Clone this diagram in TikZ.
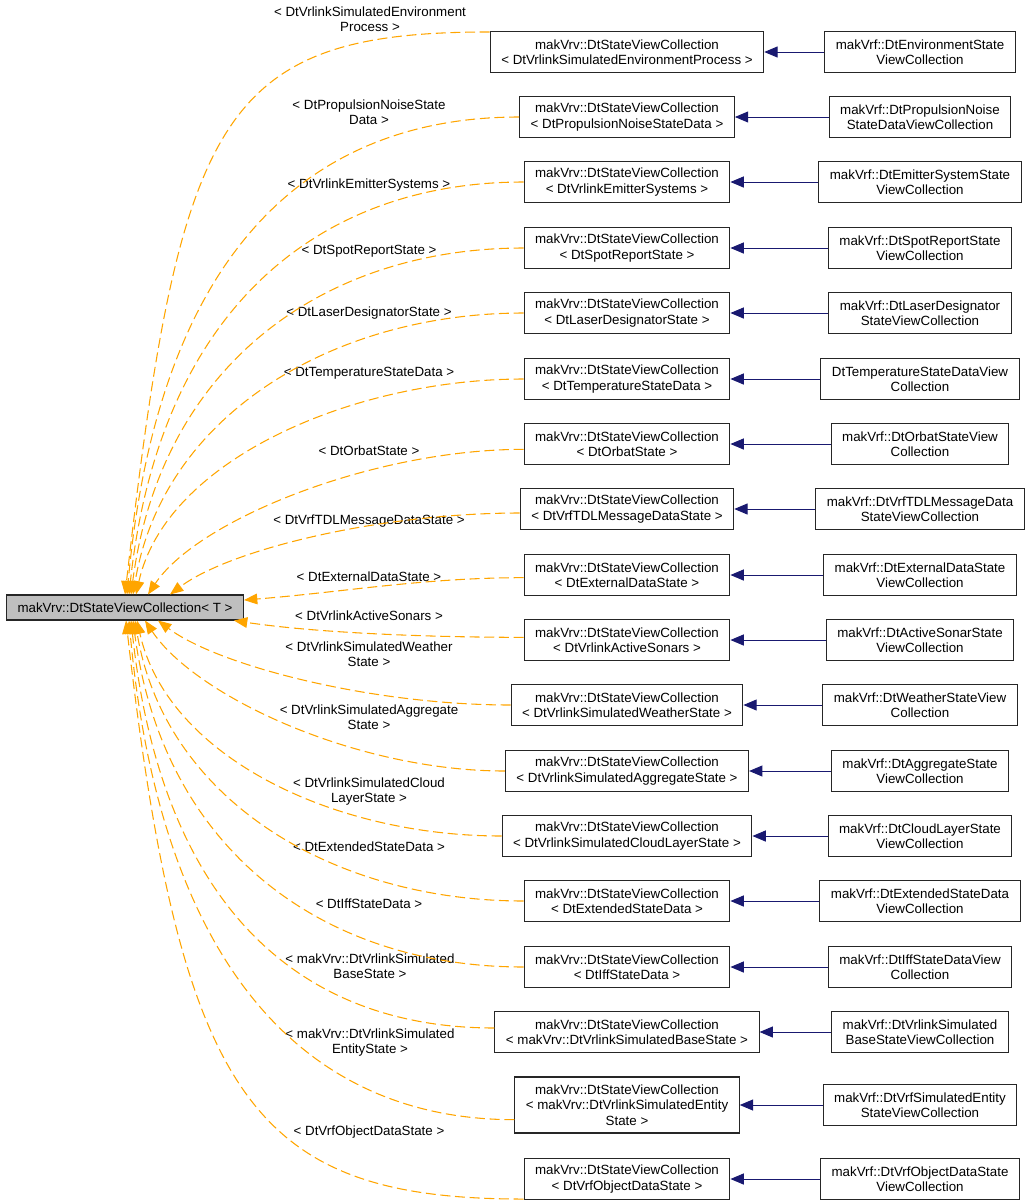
\documentclass[tikz,border=0pt]{standalone}
\usepackage{fontspec}
\setmainfont{Liberation Sans}
\usetikzlibrary{arrows.meta}
\definecolor{inhblue}{HTML}{191970}
\definecolor{tmplorange}{HTML}{FFA500}

\begin{document}
\begin{tikzpicture}[x=0.75pt, y=-0.75pt,
cls/.style={draw=black!85, line width=0.8pt, fill=white, align=center, inner xsep=8.25pt, minimum height=30.75pt, font=\fontsize{10}{11.5}\selectfont},
base/.style={cls, fill=black!25, minimum height=18.75pt},
inh/.style={draw=inhblue, line width=0.75pt, -{Triangle[length=10pt, width=8.25pt]}},
tmpl/.style={draw=tmplorange, line width=0.8pt, dash pattern=on 7.5pt off 3.5pt, -{Triangle[length=10pt, width=8pt]}},
lbl/.style={align=center, font=\fontsize{10}{11.25}\selectfont}]
\def\mx{627}
\def\rx{920}
\useasboundingbox (0,0) rectangle (1029,1204);
% base template
\node[base] (main) at (125,607.5) {makVrv::DtStateViewCollection< T >};
% instances
\node[cls] (m1) at (\mx,52) {makVrv::DtStateViewCollection\\< DtVrlinkSimulatedEnvironmentProcess >};
\node[cls] (m2) at (\mx,117) {makVrv::DtStateViewCollection\\< DtPropulsionNoiseStateData >};
\node[cls] (m3) at (\mx,182) {makVrv::DtStateViewCollection\\< DtVrlinkEmitterSystems >};
\node[cls] (m4) at (\mx,248) {makVrv::DtStateViewCollection\\< DtSpotReportState >};
\node[cls] (m5) at (\mx,313) {makVrv::DtStateViewCollection\\< DtLaserDesignatorState >};
\node[cls] (m6) at (\mx,379) {makVrv::DtStateViewCollection\\< DtTemperatureStateData >};
\node[cls] (m7) at (\mx,444) {makVrv::DtStateViewCollection\\< DtOrbatState >};
\node[cls] (m8) at (\mx,509) {makVrv::DtStateViewCollection\\< DtVrfTDLMessageDataState >};
\node[cls] (m9) at (\mx,575) {makVrv::DtStateViewCollection\\< DtExternalDataState >};
\node[cls] (m10) at (\mx,640) {makVrv::DtStateViewCollection\\< DtVrlinkActiveSonars >};
\node[cls] (m11) at (\mx,705) {makVrv::DtStateViewCollection\\< DtVrlinkSimulatedWeatherState >};
\node[cls] (m12) at (\mx,771) {makVrv::DtStateViewCollection\\< DtVrlinkSimulatedAggregateState >};
\node[cls] (m13) at (\mx,836) {makVrv::DtStateViewCollection\\< DtVrlinkSimulatedCloudLayerState >};
\node[cls] (m14) at (\mx,901) {makVrv::DtStateViewCollection\\< DtExtendedStateData >};
\node[cls] (m15) at (\mx,967) {makVrv::DtStateViewCollection\\< DtIffStateData >};
\node[cls] (m16) at (\mx,1032) {makVrv::DtStateViewCollection\\< makVrv::DtVrlinkSimulatedBaseState >};
\node[cls, minimum height=42pt] (m17) at (\mx,1105) {makVrv::DtStateViewCollection\\< makVrv::DtVrlinkSimulatedEntity\\State >};
\node[cls] (m18) at (\mx,1179) {makVrv::DtStateViewCollection\\< DtVrfObjectDataState >};
% derived view collections
\node[cls] (r1) at (\rx,52) {makVrf::DtEnvironmentState\\ViewCollection};
\node[cls] (r2) at (\rx,117) {makVrf::DtPropulsionNoise\\StateDataViewCollection};
\node[cls] (r3) at (\rx,182) {makVrf::DtEmitterSystemState\\ViewCollection};
\node[cls] (r4) at (\rx,248) {makVrf::DtSpotReportState\\ViewCollection};
\node[cls] (r5) at (\rx,313) {makVrf::DtLaserDesignator\\StateViewCollection};
\node[cls] (r6) at (\rx,379) {DtTemperatureStateDataView\\Collection};
\node[cls] (r7) at (\rx,444) {makVrf::DtOrbatStateView\\Collection};
\node[cls] (r8) at (\rx,509) {makVrf::DtVrfTDLMessageData\\StateViewCollection};
\node[cls] (r9) at (\rx,575) {makVrf::DtExternalDataState\\ViewCollection};
\node[cls] (r10) at (\rx,640) {makVrf::DtActiveSonarState\\ViewCollection};
\node[cls] (r11) at (\rx,705) {makVrf::DtWeatherStateView\\Collection};
\node[cls] (r12) at (\rx,771) {makVrf::DtAggregateState\\ViewCollection};
\node[cls] (r13) at (\rx,836) {makVrf::DtCloudLayerState\\ViewCollection};
\node[cls] (r14) at (\rx,901) {makVrf::DtExtendedStateData\\ViewCollection};
\node[cls] (r15) at (\rx,967) {makVrf::DtIffStateDataView\\Collection};
\node[cls] (r16) at (\rx,1032) {makVrf::DtVrlinkSimulated\\BaseStateViewCollection};
\node[cls] (r17) at (\rx,1105) {makVrf::DtVrfSimulatedEntity\\StateViewCollection};
\node[cls] (r18) at (\rx,1179) {makVrf::DtVrfObjectDataState\\ViewCollection};
% template arguments
\node[lbl] (l1) at (370,19) {< DtVrlinkSimulatedEnvironment\\Process >};
\node[lbl] (l2) at (369,112) {< DtPropulsionNoiseState\\Data >};
\node[lbl] (l3) at (369,185) {< DtVrlinkEmitterSystems >};
\node[lbl] (l4) at (369,251) {< DtSpotReportState >};
\node[lbl] (l5) at (369,313) {< DtLaserDesignatorState >};
\node[lbl] (l6) at (369,373) {< DtTemperatureStateData >};
\node[lbl] (l7) at (369,451) {< DtOrbatState >};
\node[lbl] (l8) at (369,521) {< DtVrfTDLMessageDataState >};
\node[lbl] (l9) at (369,577) {< DtExternalDataState >};
\node[lbl] (l10) at (369,616) {< DtVrlinkActiveSonars >};
\node[lbl] (l11) at (369,654) {< DtVrlinkSimulatedWeather\\State >};
\node[lbl] (l12) at (369,717) {< DtVrlinkSimulatedAggregate\\State >};
\node[lbl] (l13) at (369,792) {< DtVrlinkSimulatedCloud\\LayerState >};
\node[lbl] (l14) at (369,847) {< DtExtendedStateData >};
\node[lbl] (l15) at (369,904) {< DtIffStateData >};
\node[lbl] (l16) at (370,966) {< makVrv::DtVrlinkSimulated\\BaseState >};
\node[lbl] (l17) at (370,1043) {< makVrv::DtVrlinkSimulated\\EntityState >};
\node[lbl] (l18) at (369,1132) {< DtVrfObjectDataState >};
% inheritance
\foreach \i in {1,...,18}
  \draw[inh] (r\i) -- (m\i);
% instantiation
\draw[tmpl] ([yshift=-0.75pt]m1.north west) .. controls +(-270,0) and +(55,-480) .. (main.north);
\draw[tmpl] (m2.west) .. controls +(-220,0) and +(30,-330) .. ([xshift=1.5pt]main.north);
\draw[tmpl] (m3.west) .. controls +(-210,0) and +(30,-280) .. ([xshift=3pt]main.north);
\draw[tmpl] (m4.west) .. controls +(-200,0) and +(30,-230) .. ([xshift=4.5pt]main.north);
\draw[tmpl] (m5.west) .. controls +(-190,0) and +(30,-180) .. ([xshift=6pt]main.north);
\draw[tmpl] (m6.west) .. controls +(-170,0) and +(30,-135) .. ([xshift=8.25pt]main.north);
\draw[tmpl] ([yshift=-4pt]m7.west) .. controls +(-150,0) and +(50,-75) .. ([xshift=17.25pt]main.north);
\draw[tmpl] ([yshift=-3pt]m8.west) .. controls +(-140,0) and +(60,-45) .. ([xshift=33.75pt]main.north);
\draw[tmpl] ([yshift=-2pt]m9.west) .. controls +(-100,0) and +(100,-8) .. ([yshift=5.6pt]main.east);
\draw[tmpl] ([yshift=2pt]m10.west) .. controls +(-100,0) and +(80,12) .. ([xshift=-7.5pt]main.south east);
\draw[tmpl] (m11.west) .. controls +(-140,0) and +(60,45) .. ([xshift=24.75pt]main.south);
\draw[tmpl] (m12.west) .. controls +(-150,0) and +(50,75) .. ([xshift=15pt]main.south);
\draw[tmpl] (m13.west) .. controls +(-170,0) and +(30,135) .. ([xshift=9pt]main.south);
\draw[tmpl] (m14.west) .. controls +(-190,0) and +(30,180) .. ([xshift=7.5pt]main.south);
\draw[tmpl] (m15.west) .. controls +(-200,0) and +(30,230) .. ([xshift=6pt]main.south);
\draw[tmpl] ([yshift=3pt]m16.west) .. controls +(-200,0) and +(30,280) .. ([xshift=4.5pt]main.south);
\draw[tmpl] ([yshift=-11pt]m17.west) .. controls +(-220,0) and +(30,330) .. ([xshift=3pt]main.south);
\draw[tmpl] ([yshift=0.75pt]m18.south west) .. controls +(-270,0) and +(55,480) .. ([xshift=0.75pt]main.south);
\end{tikzpicture}
\end{document}
